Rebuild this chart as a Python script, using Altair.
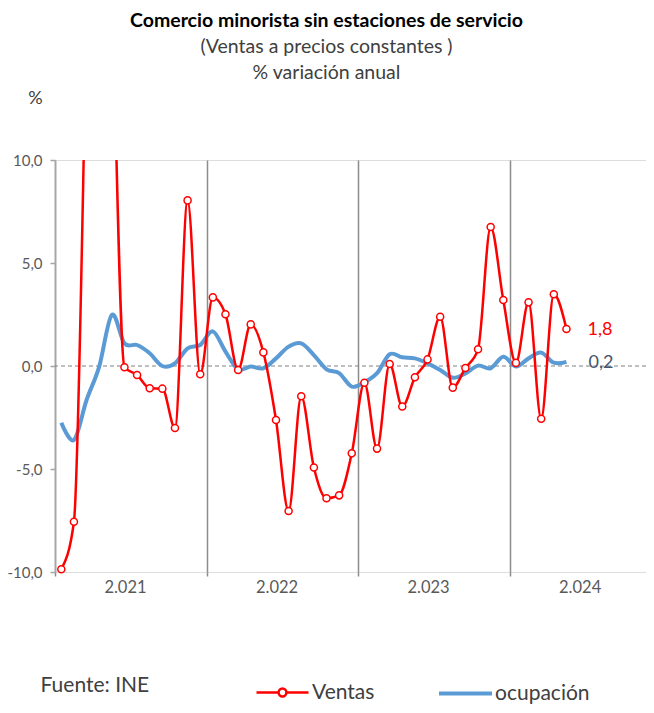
import altair as alt
import pandas as pd

# Month index: 0 = Jan 2021 ... 40 = May 2024
MESES = list(range(41))
VENTAS = [-9.87, -7.56, 17.0, 48.5, 19.5, -0.06, -0.44, -1.08, -1.10, -3.01, 8.04, -0.40,
          3.33, 2.51, -0.19, 2.02, 0.66, -2.62, -7.04, -1.47, -4.93, -6.42, -6.28, -4.24,
          -0.81, -4.01, 0.10, -1.97, -0.55, 0.32, 2.39, -1.05, -0.10, 0.81, 6.75, 3.20,
          0.15, 3.09, -2.56, 3.48, 1.80]
OCUPACION = [-2.75, -3.59, -1.65, -0.03, 2.48, 1.10, 1.02, 0.62, 0.00, 0.13, 0.86, 1.02,
             1.68, 0.70, -0.16, -0.03, -0.11, 0.37, 0.94, 1.10, 0.53, -0.16, -0.35, -1.00,
             -0.79, -0.35, 0.57, 0.42, 0.37, 0.13, -0.19, -0.57, -0.36, 0.02, -0.11, 0.45,
             -0.02, 0.37, 0.65, 0.16, 0.20]
YEARS = ["2.021", "2.022", "2.023", "2.024"]
YEAR_BOUNDS = [-0.5, 11.5, 23.5, 35.5]
Y_TICKS = [-10, -5, 0, 5, 10]

FONT = "Lato"
RED = "#FF0000"
BLUE = "#5B9BD5"
GRAY_TXT = "#595959"
AXIS_GRAY = "#A6A6A6"

df_v = pd.DataFrame({"i": MESES, "valor": VENTAS, "serie": "Ventas"})
df_o = pd.DataFrame({"i": MESES, "valor": OCUPACION, "serie": "ocupación"})
df_v_last = df_v.tail(1)
df_o_last = df_o.tail(1)
df_zero = pd.DataFrame({"y": [0]})

W, H = 591, 412
X_MAX = 46.3

comma_expr = "(datum.value < 0 ? '-' : '') + replace(format(abs(datum.value), '.1f'), '.', ',')"

XAXIS = alt.Axis(
    values=YEAR_BOUNDS,
    labelExpr=f"{YEARS}[round((datum.value + 0.5) / 12)]",
    labelOffset=70, labelAlign="center", labelFlush=False, labelOverlap=False, labelBound=False,
    labelFont=FONT, labelFontSize=16.5, labelColor=GRAY_TXT, labelPadding=3,
    domain=False, ticks=True, tickSize=4, tickColor="#8C8C8C", tickWidth=1.5,
    grid=True, gridColor="#8C8C8C", gridWidth=1.5,
    title="Fuente: INE", titleX=-15, titleY=113, titleAlign="left", titleBaseline="middle",
    titleFont=FONT, titleFontSize=21, titleFontWeight="normal", titleColor="#404040",
)
YAXIS = alt.Axis(
    values=Y_TICKS, labelExpr=comma_expr,
    labelFont=FONT, labelFontSize=15, labelColor=GRAY_TXT, labelPadding=8,
    domain=True, domainColor=AXIS_GRAY, domainWidth=1.5,
    ticks=True, tickSize=5, tickColor=AXIS_GRAY, tickWidth=1.5, grid=False,
    title="%", titleAngle=0, titleX=-20, titleY=-62, titleAlign="center", titleBaseline="middle",
    titleFont=FONT, titleFontSize=18, titleFontWeight="normal", titleColor="#404040",
)

X = alt.X("i:Q", scale=alt.Scale(domain=[-0.5, X_MAX], nice=False, zero=False), axis=XAXIS)
Y = alt.Y("valor:Q", scale=alt.Scale(domain=[-10, 10], nice=False, zero=False), axis=YAXIS)

VENTAS_SYMBOL = ("M -1 0 H -0.15 M 0.15 0 H 1 "
                 "M -0.15 0 A 0.15 0.15 0 1 1 0.15 0 A 0.15 0.15 0 1 1 -0.15 0")

zero = alt.Chart(df_zero).mark_rule(color="#808080", strokeDash=[4, 3], strokeWidth=1).encode(
    y=alt.Y("y:Q", scale=alt.Scale(domain=[-10, 10], nice=False, zero=False), axis=YAXIS)
)

line_o = alt.Chart(df_o).mark_line(strokeWidth=4, interpolate="cardinal", clip=True).encode(
    x=X, y=Y,
    color=alt.Color("serie:N", scale=alt.Scale(domain=["ocupación"], range=[BLUE]),
                    legend=alt.Legend(title=None, orient="none", legendX=382, legendY=505,
                                      symbolType="stroke", symbolSize=2809, symbolStrokeWidth=4,
                                      labelFont=FONT, labelFontSize=21, labelColor="#404040",
                                      labelOffset=1)),
)

line_v = alt.Chart(df_v).mark_line(strokeWidth=2.5, interpolate="monotone", clip=True).encode(
    x=X, y=Y,
    color=alt.Color("serie:N", scale=alt.Scale(domain=["Ventas"], range=[RED]),
                    legend=alt.Legend(title=None, orient="none", legendX=200, legendY=505,
                                      symbolType=VENTAS_SYMBOL, symbolSize=2704,
                                      symbolStrokeWidth=2.5,
                                      labelFont=FONT, labelFontSize=21, labelColor="#404040",
                                      labelOffset=2)),
)

pts_v = alt.Chart(df_v).transform_filter("datum.valor <= 10").mark_point(
    shape="circle", filled=True, fill="white", stroke=RED, strokeWidth=1.5, size=50, opacity=1
).encode(x=X, y=Y)

lab_v = alt.Chart(df_v_last).transform_calculate(
    t="replace(format(datum.valor, '.1f'), '.', ',')"
).mark_text(align="left", baseline="middle", dx=21, dy=1, font=FONT, fontSize=18, color=RED).encode(
    x=X, y=Y, text="t:N"
)
lab_o = alt.Chart(df_o_last).transform_calculate(
    t="replace(format(datum.valor, '.1f'), '.', ',')"
).mark_text(align="left", baseline="middle", dx=22, dy=1, font=FONT, fontSize=18, color="#44546A").encode(
    x=X, y=Y, text="t:N"
)

chart = alt.layer(zero, line_o, line_v, pts_v, lab_v, lab_o).resolve_scale(
    color="independent"
).properties(
    width=W, height=H,
    autosize=alt.AutoSizeParams(type="none"),
    padding={"left": 47, "top": 152, "right": 0, "bottom": 133},
    title=alt.Title(
        "Comercio minorista sin estaciones de servicio",
        subtitle=["(Ventas a precios constantes )", "% variación anual"],
        anchor="middle", frame="group", dx=-24, offset=6,
        font=FONT, fontSize=19.5, fontWeight="bold", color="#000000",
        subtitleFont=FONT, subtitleFontSize=19.5, subtitleColor="#404040",
        subtitlePadding=6.5, subtitleLineHeight=26,
    ),
).configure_view(stroke=None).configure(background="white")

chart.save("out.html", embed_options={"renderer": "svg", "actions": False})
